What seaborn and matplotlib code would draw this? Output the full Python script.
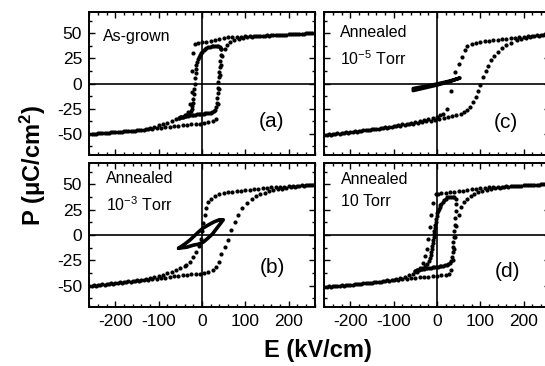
import pandas as pd
import matplotlib.pyplot as plt
from matplotlib.ticker import MultipleLocator
import seaborn as sns

sns.set_theme(style="ticks")
plt.rcParams['font.family'] = ['Liberation Sans', 'DejaVu Sans']
plt.rcParams['mathtext.fontset'] = 'custom'
plt.rcParams['mathtext.rm'] = 'Liberation Sans'
plt.rcParams['mathtext.bf'] = 'Liberation Sans:bold'
plt.rcParams['mathtext.it'] = 'Liberation Sans:italic'
plt.rcParams['axes.unicode_minus'] = False
plt.rcParams['text.color'] = 'black'
plt.rcParams['xtick.color'] = 'black'
plt.rcParams['ytick.color'] = 'black'
plt.rcParams['xtick.labelcolor'] = 'black'
plt.rcParams['ytick.labelcolor'] = 'black'

# ---------------- (a) as-grown ----------------
a_out_dn_E = [260, 250, 240, 230, 220, 210, 200, 190, 180, 170,
              160, 150, 140, 130, 120, 110, 100, 90, 80, 70,
              60, 50, 40, 30, 20, 10, 0, -10,
              -16, -20, -22, -24, -27, -32,
              -40, -50, -60, -70, -80, -90, -100, -110, -120,
              -130, -140, -150, -160, -170, -180, -190, -200, -210, -220, -230, -240, -250, -260]
a_out_dn_P = [50.5, 50, 50, 49.5, 49.5, 49, 49, 48.5, 48.5, 48,
              48, 48, 47.5, 47.5, 47, 47, 47, 46.5, 46.5, 46,
              46, 45.5, 44.5, 43.5, 42.5, 41.5, 41, 40,
              39, 30, 12, -8, -20, -28,
              -31, -33, -35, -37, -39, -40, -41.5, -43, -44,
              -45.5, -46, -46.5, -47, -47, -47.5, -48, -48, -48.5, -49, -49, -49.5, -50, -50]
a_out_up_E = [-255, -245, -235, -225, -215, -205, -195, -185, -175, -165, -155, -145, -135,
              -125, -115, -105, -95, -85, -75, -65, -55, -45, -35, -25, -15, -5,
              5, 15, 25, 33, 38, 40, 42, 44, 47, 52, 58, 65, 75,
              85, 95, 105, 115, 125, 135, 145, 155, 165, 175, 185, 195, 205, 215, 225, 235, 245, 255]
a_out_up_P = [-50.5, -50, -49.5, -49.5, -49, -48.5, -48.5, -48, -47.5, -47.5, -47, -46.5, -46,
              -45.5, -45, -44.5, -44, -43.5, -43, -42.5, -42, -41.5, -41, -40.5, -40.5, -40,
              -39.5, -38.5, -37, -35, -20, -5, 8, 18, 27, 34, 38, 41, 43,
              44.5, 45.5, 46, 46.5, 47, 47, 47.5, 47.5, 48, 48, 48.5, 48.5, 49, 49, 49.5, 49.5, 50, 50]
a_in_dn_E = [44, 41, 38, 34, 30, 26, 22, 18, 14, 10,
             7, 4, 1, -2, -5, -8, -10, -12, -13, -14,
             -15, -16, -17, -18, -19, -20, -21, -22, -24, -26,
             -29, -32, -36, -40, -44, -48, -52]
a_in_dn_P = [34, 36, 37, 37.5, 37.5, 37.5, 37, 36.5, 36, 35,
             34, 33, 31.5, 30, 28, 26, 24, 21, 18, 14,
             10, 5, 0, -5, -10, -15, -19, -22, -25, -27,
             -29, -30.5, -31.5, -32, -33, -33.5, -34]
a_in_up_E = [-52, -48, -44, -40, -36, -32, -28, -24, -20, -16, -12, -8, -4, 0, 4, 8, 12, 16, 20, 24, 28,
             31, 33, 34, 35, 36, 37, 38, 39, 40, 41, 42, 43, 44]
a_in_up_P = [-34, -33.5, -33, -32.5, -32, -32, -31.5, -31.5, -31, -31, -30.5, -30.5, -30, -30, -30,
             -29.5, -29.5, -29, -29, -28.5, -27.5,
             -26, -23, -19, -14, -9, -4, 1, 6, 11, 16, 22, 28, 34]

# ---------------- (b) annealed 10^-3 Torr ----------------
b_out_dn_E = [260, 250, 240, 230, 220, 210, 200, 190, 180, 170, 160, 150, 140, 130, 120, 110, 100,
              90, 80, 70, 60, 50, 40, 30, 20,
              15, 10, 6, 3, 0, -3, -8, -14, -20, -28, -36,
              -40, -50, -60, -70, -80, -90, -100, -110, -120, -130, -140, -150, -160, -170,
              -180, -190, -200, -210, -220, -230, -240, -250, -260]
b_out_dn_P = [50, 49.5, 49, 49, 48.5, 48, 48, 47.5, 47.5, 47, 47, 46.5, 46, 45.5, 45, 44.5, 44,
              43.5, 43, 42.5, 42, 41, 40, 38.5, 36,
              33, 27, 20, 12, 4, -4, -11, -17, -22, -27, -30,
              -31, -33, -34.5, -36, -37.5, -39, -40, -41, -42, -43, -44, -44.5, -45, -45.5,
              -46, -46.5, -47, -47.5, -48, -48.5, -49, -49.5, -50]
b_out_up_E = [-255, -245, -235, -225, -215, -205, -195, -185, -175, -165, -155, -145, -135,
              -125, -115, -105, -95, -85, -75, -65, -55, -45, -35, -25, -15, -5,
              5, 15, 25, 33, 40, 45, 52, 60, 68, 76, 84, 93, 103, 115, 125,
              135, 145, 155, 165, 175, 185, 195, 205, 215, 225, 235, 245, 255]
b_out_up_P = [-50.5, -50, -49.5, -49, -48.5, -48, -47.5, -47, -46.5, -46, -45.5, -45, -44.5,
              -44, -43.5, -43, -42.5, -42, -41, -40.5, -40, -39.5, -39, -38.5, -38, -38,
              -37, -36, -35, -32, -27, -19, -12, -5, 5, 13, 20, 27, 32, 36, 38.5,
              40, 41.5, 43, 44, 45, 45.5, 46.5, 47, 47.5, 48, 48.5, 49, 49.5]
b_in_E = [-54, -40, -28, -18, -8, 3, 15, 28, 40, 49, 42, 33, 24, 14, 3, -8, -20, -35, -54]
b_in_P = [-13, -9, -5, -1, 3, 7, 10, 13, 15, 15, 11, 6, 1, -3, -7, -9, -10, -12, -13]

# ---------------- (c) annealed 10^-5 Torr ----------------
c_out_dn_E = [260, 250, 240, 230, 220, 210, 200, 190, 180, 170, 160, 150, 140, 130, 120, 110, 100, 90, 80, 70,
              64, 57, 50, 42, 33, 23, 14, 6,
              0, -10, -20, -30, -40, -50, -60, -70, -80, -90, -100, -110, -120, -130,
              -140, -150, -160, -170, -180, -190, -200, -210, -220, -230, -240, -250, -260]
c_out_dn_P = [49.5, 49, 48.5, 48, 47.5, 47, 46.5, 46, 45.5, 45, 44.5, 44, 43.5, 43, 42.5, 42, 41.5, 40.5, 39.5, 37,
              33, 26, 19, 11, -7, -25, -30, -31.5,
              -33, -34.5, -35.5, -36.5, -37.5, -38, -39, -40, -40.5, -41.5, -42, -43, -43.5, -44,
              -45, -45.5, -46, -46.5, -47, -47.5, -48, -48.5, -49, -49.5, -50, -50.5, -51]
c_out_up_E = [-255, -245, -235, -225, -215, -205, -195, -185, -175, -165, -155, -145, -135, -125, -115,
              -105, -95, -85, -75, -65, -55, -45, -35, -25, -15, -5, 5, 15, 25, 35,
              45, 55, 63, 70, 77, 84, 90, 95, 100, 106, 112, 118, 125, 132, 140, 150, 160, 170,
              185, 195, 205, 215, 225, 235, 245, 255]
c_out_up_P = [-51.5, -51, -50.5, -50, -49.5, -49, -48.5, -48, -47, -46.5, -46, -45.5, -45, -44.5, -44,
              -43, -42.5, -42, -41, -40.5, -40, -39, -38.5, -37.5, -37, -36, -35, -34.5, -33.5, -32.5,
              -31.5, -30, -28, -26, -23, -18, -13, -7, -1, 6, 12, 17, 23, 27, 31, 35, 38, 40.5,
              43, 44.5, 45.5, 46.5, 47, 47.5, 48, 48.5]
c_in_E = [-55, -30, 0, 30, 53, 30, 0, -30, -55]
c_in_P = [-5, -3, -0.5, 2.5, 5.5, 2, -1.5, -4.5, -7]

# ---------------- (d) annealed 10 Torr ----------------
d_out_dn_E = [260, 250, 240, 230, 220, 210, 200, 190, 180, 170, 160, 150, 140,
              130, 120, 110, 100, 90, 80, 70, 60, 50, 40, 30, 20, 10,
              3, -3, -9, -14, -17, -20, -23, -27, -33, -40, -47,
              -55, -65, -75, -85, -95, -105, -115, -125, -135, -145, -155,
              -165, -175, -185, -195, -205, -215, -225, -235, -245, -255]
d_out_dn_P = [50.5, 50, 50, 49.5, 49.5, 49, 49, 48.5, 48.5, 48, 48, 47.5, 47.5,
              47, 47, 46.5, 46, 45.5, 45, 44, 43.5, 43, 42.5, 42, 41.5, 41,
              40.5, 40, 32, 20, 8, -4, -14, -21, -28, -33, -36,
              -38, -39.5, -41, -42, -43, -44, -44.5, -45.5, -46, -46.5, -47,
              -47.5, -48, -48.5, -49, -49.5, -50, -50, -50.5, -51, -51]
d_out_up_E = [-260, -250, -240, -230, -220, -210, -200, -190, -180, -170, -160, -150, -140, -130, -120,
              -110, -100, -90, -80, -70, -60, -50, -40, -30, -20, -10, 0, 10, 20,
              28, 33, 36, 39, 42, 45, 50, 56, 63, 70, 78, 86, 95,
              105, 115, 125, 135, 145, 155, 165, 175, 185, 195, 205, 215, 225, 235, 245, 255]
d_out_up_P = [-51, -50.5, -50, -50, -49.5, -49, -49, -48.5, -48, -47.5, -47.5, -47, -46.5, -46, -45.5,
              -45, -44.5, -44, -43.5, -43, -42.5, -42, -41.5, -41.5, -41, -40.5, -40, -39.5, -39,
              -38, -35, -25, -14, -2, 9, 20, 28, 33, 36, 38.5, 40.5, 42,
              43.5, 44.5, 45.5, 46, 46.5, 47, 47.5, 48, 48, 48.5, 49, 49, 49.5, 49.5, 50, 50]
d_in_dn_E = [44, 40, 36, 32, 28, 24, 20, 16, 13, 10,
             8, 6, 4, 2, 0, -1, -2, -3, -4, -5,
             -6, -7, -8, -9, -10, -11, -12, -13, -14, -16,
             -19, -23, -28, -34, -40, -46, -50]
d_in_dn_P = [36, 37, 37.5, 37.5, 37.5, 37, 36, 34.5, 33, 31,
             29.5, 28, 26, 24, 21.5, 19, 16, 13, 10, 7,
             4, 1, -2, -5, -8, -11, -14, -17, -20, -23,
             -26, -29, -31, -33, -34, -35, -35.5]
d_in_up_E = [-50, -46, -42, -38, -34, -30, -26, -22, -18, -14, -10, -6, -2, 2, 6, 10, 14, 18, 22, 26, 30,
             33, 35, 36, 37, 38, 39, 40, 41, 42, 43, 44]
d_in_up_P = [-35.5, -35, -34.5, -34, -33.5, -33.5, -33, -33, -32.5, -32.5, -32, -32, -31.5, -31.5,
             -31, -31, -30.5, -30, -29.5, -29, -28,
             -26, -22, -17, -12, -7, -2, 4, 10, 17, 24, 31]

panel_keys = ['a', 'b', 'c', 'd']
panel_letters = ['(a)', '(b)', '(c)', '(d)']
panel_titles = ['As-grown', 'Annealed\n10$^{-3}$ Torr', 'Annealed\n10$^{-5}$ Torr', 'Annealed\n10 Torr']
x_ticks = [-200, -100, 0, 100, 200]
y_ticks = [-50, -25, 0, 25, 50]


def frame(E, P):
    return pd.DataFrame({'E': E, 'P': P})


dots = {
    'a': [frame(a_out_dn_E, a_out_dn_P), frame(a_out_up_E, a_out_up_P),
          frame(a_in_dn_E, a_in_dn_P), frame(a_in_up_E, a_in_up_P)],
    'b': [frame(b_out_dn_E, b_out_dn_P), frame(b_out_up_E, b_out_up_P)],
    'c': [frame(c_out_dn_E, c_out_dn_P), frame(c_out_up_E, c_out_up_P)],
    'd': [frame(d_out_dn_E, d_out_dn_P), frame(d_out_up_E, d_out_up_P),
          frame(d_in_dn_E, d_in_dn_P), frame(d_in_up_E, d_in_up_P)],
}
loops = {'b': frame(b_in_E, b_in_P), 'c': frame(c_in_E, c_in_P)}

# axes boxes in figure fractions (left, bottom, width, height)
boxes = {
    'a': [0.1633, 0.5765, 0.4147, 0.3907],
    'b': [0.1633, 0.1612, 0.4147, 0.3934],
    'c': [0.5945, 0.5765, 0.4147, 0.3907],
    'd': [0.5945, 0.1612, 0.4147, 0.3934],
}
title_pos = {'a': (-228, 46.5), 'b': (-222, 42), 'c': (-224, 36.5), 'd': (-222, 44)}
letter_pos = {'a': (160, -38), 'b': (162, -32), 'c': (160, -39), 'd': (162, -36)}

fig = plt.figure(figsize=(5.45, 3.66), dpi=100)

for i, key in enumerate(panel_keys):
    ax = fig.add_axes(boxes[key])
    ax.axhline(0, color='black', lw=1.2, zorder=1)
    ax.axvline(0, color='black', lw=1.2, zorder=1)
    for df in dots[key]:
        sns.scatterplot(data=df, x='E', y='P', ax=ax, color='black', s=9,
                        linewidth=0, marker='o', zorder=3)
    if key in loops:
        sns.lineplot(data=loops[key], x='E', y='P', ax=ax, color='black', lw=2.6,
                     sort=False, estimator=None, zorder=3)
    ax.set_xlim(-261, 261)
    ax.set_ylim(-71, 71)
    ax.set_xticks(x_ticks)
    ax.set_yticks(y_ticks)
    ax.xaxis.set_minor_locator(MultipleLocator(20))
    ax.yaxis.set_minor_locator(MultipleLocator(12.5))
    ax.tick_params(which='both', direction='in', top=True, right=True, color='black',
                   width=1.0, labelsize=12.5, labelcolor='black')
    ax.tick_params(which='major', length=4)
    ax.tick_params(which='minor', length=2)
    ax.tick_params(axis='y', pad=5)
    ax.tick_params(axis='x', pad=5)
    for sp in ax.spines.values():
        sp.set_color('black')
        sp.set_linewidth(1.4)
    ax.set_xlabel('')
    ax.set_ylabel('')
    if key in ('a', 'c'):
        ax.tick_params(labelbottom=False)
    if key in ('c', 'd'):
        ax.tick_params(labelleft=False)
    ax.text(title_pos[key][0], title_pos[key][1], panel_titles[i],
            fontsize=11.5, ha='left', va='center', linespacing=1.6, color='black')
    ax.text(letter_pos[key][0], letter_pos[key][1], panel_letters[i],
            fontsize=15, ha='center', va='center', color='black')

fig.text(33 / 545, 1 - 165 / 366, r'P (μC/cm$^\mathbf{2}$)', rotation=90, fontsize=17,
         fontweight='bold', ha='center', va='center', color='black')
fig.text(318 / 545, 1 - 350 / 366, 'E (kV/cm)', fontsize=17, fontweight='bold',
         ha='center', va='center', color='black')

fig.savefig('out.png', dpi=100)
